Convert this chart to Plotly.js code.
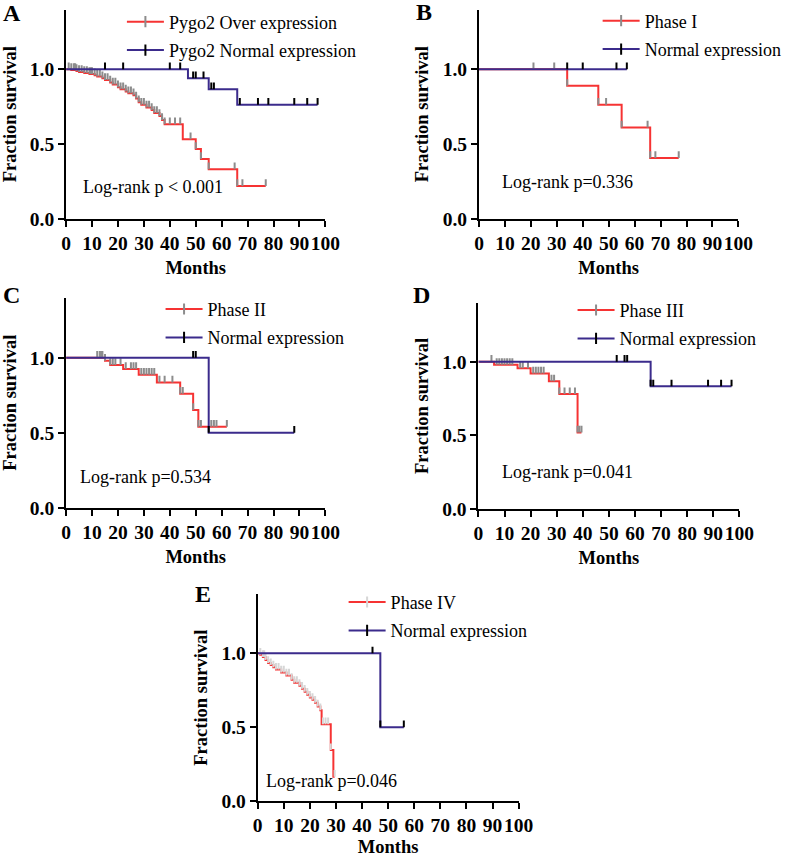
<!DOCTYPE html>
<html><head><meta charset="utf-8">
<script src="https://cdn.plot.ly/plotly-3.0.1.min.js"></script>
<style>html,body{margin:0;padding:0;background:#fff}#chart{width:787px;height:857px}</style>
</head><body><div id="chart"></div>
<script>
// ---------------- data ----------------
const monthTicks = [0,10,20,30,40,50,60,70,80,90,100];
const survTickVals = [0, 0.5, 1.0];
const survTickText = ['0.0', '0.5', '1.0'];
const panelLetters = ['A', 'B', 'C', 'D', 'E'];
const logRankTexts = ['Log-rank p < 0.001', 'Log-rank p=0.336', 'Log-rank p=0.534', 'Log-rank p=0.041', 'Log-rank p=0.046'];
const overNames = ['Pygo2 Over expression', 'Phase I', 'Phase II', 'Phase III', 'Phase IV'];
const normalNames = ['Pygo2 Normal expression', 'Normal expression', 'Normal expression', 'Normal expression', 'Normal expression'];

// A: all patients
const aOverTimes = [0, 2, 4, 5, 7, 9, 11, 12, 14, 15, 17, 18, 20, 21, 23, 24, 26, 27, 28, 29, 31, 33, 34, 36, 37, 38, 45, 50, 52, 55, 66];
const aOverSurv  = [1, 0.995, 0.988, 0.982, 0.975, 0.968, 0.96, 0.952, 0.94, 0.928, 0.912, 0.898, 0.88, 0.866, 0.852, 0.84, 0.826, 0.805, 0.78, 0.762, 0.745, 0.728, 0.708, 0.688, 0.66, 0.632, 0.532, 0.467, 0.40, 0.331, 0.219];
const aOverEnd = 77;
const aOverCensor = [1, 2, 3, 3.5, 4, 5, 6, 7, 8, 9, 9.5, 10, 11, 12, 13, 14, 15, 16, 17, 18, 19, 20, 21, 22, 23, 24, 25, 26, 27, 28, 29, 30, 31, 32, 33, 34, 35, 36, 37, 38, 40, 42, 44, 48, 50, 52, 55, 65, 66, 68, 77];
const aNormTimes = [0, 47, 55, 66];
const aNormSurv  = [1, 0.94, 0.867, 0.762];
const aNormEnd = 97;
const aNormCensor = [15, 22, 40, 44, 49, 50, 53, 56, 57, 67, 74, 78, 88, 93, 97];

// B: phase I
const bOverTimes = [0, 34, 46, 55, 66];
const bOverSurv  = [1, 0.889, 0.762, 0.61, 0.407];
const bOverEnd = 77;
const bOverCensor = [21, 29, 34, 46, 49, 55, 65, 66, 68, 77];
const bNormTimes = [0];
const bNormSurv  = [1];
const bNormEnd = 57;
const bNormCensor = [34, 40, 53, 57];

// C: phase II
const cOverTimes = [0, 15, 17, 22, 28, 35, 44, 49, 51];
const cOverSurv  = [1, 0.98, 0.951, 0.924, 0.887, 0.835, 0.76, 0.651, 0.54];
const cOverEnd = 62;
const cOverCensor = [12, 13, 13.5, 14, 15, 17, 18, 19, 21, 23, 25, 26, 27, 29, 30, 31, 32, 33, 34, 36, 38, 41, 44, 45, 49, 51, 52, 56, 57, 58, 62];
const cNormTimes = [0, 55];
const cNormSurv  = [1, 0.5];
const cNormEnd = 88;
const cNormCensor = [49, 50, 55, 88];

// D: phase III
const dOverTimes = [0, 6, 15, 20, 27, 31, 38];
const dOverSurv  = [1, 0.979, 0.955, 0.92, 0.867, 0.78, 0.52];
const dOverEnd = 39.5;
const dOverCensor = [5, 7, 8, 9, 10, 11, 12, 13, 16, 17, 19, 21, 22, 23, 24, 25, 28, 29, 31, 33, 35, 37, 38, 38.7, 39.5];
const dNormTimes = [0, 66];
const dNormSurv  = [1, 0.833];
const dNormEnd = 97;
const dNormCensor = [53, 56, 57, 66, 67, 74, 88, 93, 97];

// E: phase IV
const eOverTimes = [0, 1, 2, 3, 4, 5, 6, 7, 9, 11, 13, 14, 16, 17, 18, 19, 20, 21, 22, 23, 24, 24.5, 28, 29];
const eOverSurv  = [1, 0.99, 0.975, 0.955, 0.935, 0.92, 0.905, 0.89, 0.87, 0.85, 0.82, 0.80, 0.78, 0.76, 0.74, 0.72, 0.70, 0.685, 0.665, 0.64, 0.615, 0.52, 0.345, 0.165];
const eOverEnd = 29.5;
const eOverCensor = [1, 2, 2.5, 3, 4, 5, 6, 7, 8, 9, 10, 11, 12, 13, 14, 15, 16, 17, 18, 19, 20, 21, 22, 23, 24, 25, 26, 27, 28, 29.5];
const eNormTimes = [0, 47];
const eNormSurv  = [1, 0.5];
const eNormEnd = 56;
const eNormCensor = [44, 47, 56];

// ---------------- styling / layout ----------------
const W = 787, H = 857;
const RED = '#f63333', BLUE = '#3b2b8c', GRAY = '#8c8c8c', LIGHT = '#d6d6d6';
const FONT = 'Liberation Serif, Times New Roman, serif';
const TICK_UP = 0.045;

const panels = [
  {over:[aOverTimes,aOverSurv,aOverEnd,aOverCensor], norm:[aNormTimes,aNormSurv,aNormEnd,aNormCensor], x0:66.7, x1:328.3, yb:218.7, yt:9.5, letter:[1,12.6], lr:[82,186.6], leg:[123,3.5], tickCol:GRAY},
  {over:[bOverTimes,bOverSurv,bOverEnd,bOverCensor], norm:[bNormTimes,bNormSurv,bNormEnd,bNormCensor], x0:483.3, x1:745, yb:218.7, yt:9.5, letter:[418,11.9], lr:[504,182.2], leg:[603,2.5], tickCol:GRAY},
  {over:[cOverTimes,cOverSurv,cOverEnd,cOverCensor], norm:[cNormTimes,cNormSurv,cNormEnd,cNormCensor], x0:66.7, x1:328.3, yb:507.7, yt:297.7, letter:[1,295.2], lr:[79,477.2], leg:[162,290.8], tickCol:GRAY},
  {over:[dOverTimes,dOverSurv,dOverEnd,dOverCensor], norm:[dNormTimes,dNormSurv,dNormEnd,dNormCensor], x0:482.7, x1:746, yb:509, yt:302.8, letter:[415,295.2], lr:[504,472.2], leg:[577.7,291.8], tickCol:GRAY},
  {over:[eOverTimes,eOverSurv,eOverEnd,eOverCensor], norm:[eNormTimes,eNormSurv,eNormEnd,eNormCensor], x0:260, x1:523.3, yb:801, yt:594.2, letter:[195,593.6], lr:[266,780.6], leg:[346.7,583.8], tickCol:LIGHT}
];

function survAt(times, surv, t) {
  let s = surv[0];
  for (let i = 0; i < times.length; i++) if (times[i] <= t) s = surv[i];
  return s;
}
function stepXY(times, surv, end) {
  return {x: times.concat([end]), y: surv.concat([surv[surv.length - 1]])};
}
function tickXY(times, surv, censor) {
  const x = [], y = [];
  censor.forEach(t => { const s = survAt(times, surv, t); x.push(t, t, null); y.push(s, s + TICK_UP, null); });
  return {x, y};
}

const traces = [];
const layout = {
  width: W, height: H, margin: {l:0, r:0, t:0, b:0},
  paper_bgcolor: '#fff', plot_bgcolor: 'rgba(0,0,0,0)',
  hovermode: false, showlegend: true,
  font: {family: FONT, color: '#000', size: 18},
  annotations: []
};

panels.forEach((p, i) => {
  const n = i + 1, sfx = n === 1 ? '' : String(n);
  const xa = 'x' + sfx, ya = 'y' + sfx, legName = 'legend' + sfx;
  const [ot, os, oe, oc] = p.over, [nt, ns, ne, nc] = p.norm;
  const os1 = stepXY(ot, os, oe), ns1 = stepXY(nt, ns, ne);
  const otk = tickXY(ot, os, oc), ntk = tickXY(nt, ns, nc);
  traces.push({x: os1.x, y: os1.y, xaxis: xa, yaxis: ya, mode: 'lines', line: {shape: 'hv', color: RED, width: 2}, showlegend: false});
  traces.push({x: otk.x, y: otk.y, xaxis: xa, yaxis: ya, mode: 'lines', line: {color: p.tickCol, width: 2}, showlegend: false});
  traces.push({x: ns1.x, y: ns1.y, xaxis: xa, yaxis: ya, mode: 'lines', line: {shape: 'hv', color: BLUE, width: 2}, showlegend: false});
  traces.push({x: ntk.x, y: ntk.y, xaxis: xa, yaxis: ya, mode: 'lines', line: {color: '#000', width: 2}, showlegend: false});
  // legend entries
  traces.push({x: [null], y: [null], xaxis: xa, yaxis: ya, name: overNames[i], mode: 'lines+markers', legend: legName, legendgroup: 'o' + n,
    line: {color: RED, width: 2}, marker: {symbol: 'line-ns', size: 8, color: p.tickCol, line: {color: p.tickCol, width: 2}}});
  traces.push({x: [null], y: [null], xaxis: xa, yaxis: ya, name: normalNames[i], mode: 'lines+markers', legend: legName, legendgroup: 'n' + n,
    line: {color: BLUE, width: 2}, marker: {symbol: 'line-ns', size: 8, color: '#000', line: {color: '#000', width: 2}}});

  const axBase = {showgrid: false, zeroline: false, showline: true, linecolor: '#000', linewidth: 2,
    ticks: 'outside', ticklen: 6, tickwidth: 2, tickcolor: '#000', tickangle: 0,
    tickfont: {family: FONT, size: 19.5, weight: 'bold', color: '#000'}};
  layout['xaxis' + sfx] = Object.assign({}, axBase, {
    domain: [p.x0 / W, p.x1 / W], anchor: ya, range: [0, 100], tickvals: monthTicks,
    title: {text: 'Months', font: {family: FONT, size: 18.5, weight: 'bold', color: '#000'}, standoff: 8}
  });
  layout['yaxis' + sfx] = Object.assign({}, axBase, {
    domain: [1 - p.yb / H, 1 - p.yt / H], anchor: xa, range: [0, 1.4],
    tickvals: survTickVals, ticktext: survTickText,
    title: {text: 'Fraction survival', font: {family: FONT, size: 18.5, weight: 'bold', color: '#000'}, standoff: 9}
  });
  layout[legName] = {x: p.leg[0] / W, y: 1 - p.leg[1] / H, xanchor: 'left', yanchor: 'top',
    bgcolor: 'rgba(0,0,0,0)', borderwidth: 0, font: {family: FONT, size: 18, color: '#000'},
    traceorder: 'grouped', tracegroupgap: 2, itemwidth: 37};
  layout.annotations.push({xref: 'paper', yref: 'paper', x: p.letter[0] / W, y: 1 - p.letter[1] / H,
    xanchor: 'left', yanchor: 'middle', showarrow: false, text: panelLetters[i],
    font: {family: FONT, size: 24, weight: 'bold', color: '#000'}});
  layout.annotations.push({xref: 'paper', yref: 'paper', x: p.lr[0] / W, y: 1 - p.lr[1] / H,
    xanchor: 'left', yanchor: 'middle', showarrow: false, text: logRankTexts[i],
    font: {family: FONT, size: 18, color: '#000'}});
});

Plotly.newPlot('chart', traces, layout, {displayModeBar: false, staticPlot: true});
</script>
</body></html>
